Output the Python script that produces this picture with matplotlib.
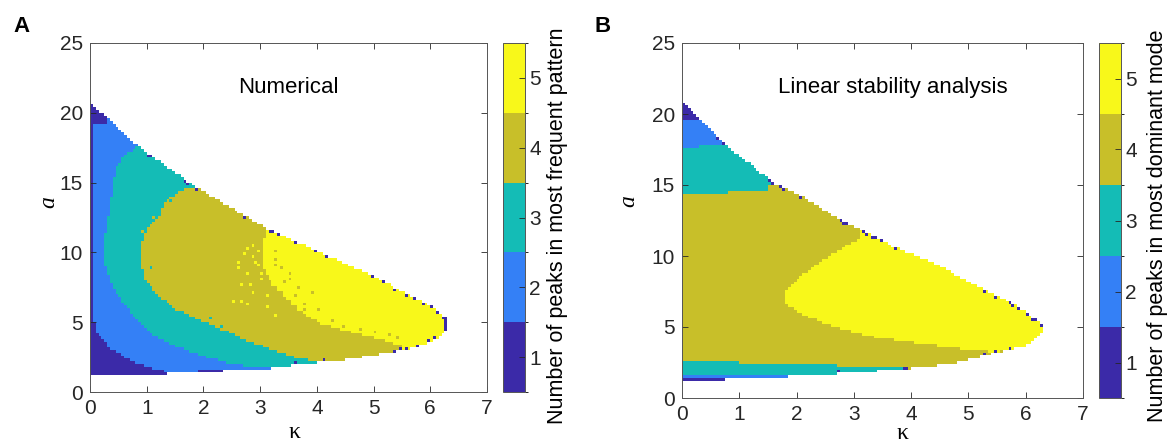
import numpy as np
import matplotlib.pyplot as plt
from matplotlib.colors import ListedColormap, BoundaryNorm
from matplotlib.path import Path

plt.rcParams['font.family'] = ['Liberation Sans', 'DejaVu Sans']

# parula-like palette, one colour per number of peaks
peak_colors = ['#3B2AA8', '#3480F6', '#14BCB6', '#C8BF29', '#F8F81A']
peak_ticks = [1, 2, 3, 4, 5]

# ---------------- panel A: numerical ----------------
top_k_A = [0, 0.35, 0.88, 1.4, 1.94, 2.5, 3.12, 3.59, 4.17, 4.94, 5.35, 5.7, 6.0, 6.2, 6.3]
top_a_A = [20.7, 19.5, 17.5, 16.0, 14.5, 13.2, 11.7, 10.85, 9.8, 8.4, 7.55, 6.8, 6.2, 5.5, 5.3]
bot_k_A = [0, 1.35, 1.4, 2.35, 3.2, 3.76, 4.0, 4.6, 5.2, 5.55, 5.96, 6.2, 6.3]
bot_a_A = [1.2, 1.2, 1.45, 1.5, 1.7, 2.0, 2.1, 2.35, 2.77, 3.0, 3.5, 4.0, 4.4]

# region outlines (kappa, a): >=2, >=3, >=4, 5
reg2_A = [(0.05, 19.3), (0.3, 19.3), (0.3, 26), (8, 26), (8, 0), (2.35, 0), (2.35, 1.6),
          (1.9, 1.6), (1.9, 0), (1.35, 0), (1.35, 1.45), (1.0, 1.8), (0.7, 2.3),
          (0.35, 3.15), (0.1, 4.4), (0.05, 5.6)]
reg3_A = [(0.85, 26), (0.85, 17.6), (0.59, 16.9), (0.46, 16.0), (0.41, 15.0), (0.35, 13.3),
          (0.28, 11.5), (0.24, 10.0), (0.29, 8.7), (0.41, 7.5), (0.59, 6.35), (0.82, 5.16),
          (1.12, 4.08), (1.53, 3.25), (2.0, 2.53), (2.59, 1.93), (3.2, 1.75), (3.2, 0),
          (8, 0), (8, 26)]
reg4_A = [(1.95, 26), (1.95, 14.5), (1.65, 14.5), (1.3, 13.6), (1.23, 12.6), (1.03, 11.8),
          (0.94, 11.1), (0.88, 9.5), (0.97, 8.0), (1.23, 6.8), (1.53, 5.87), (1.94, 5.16),
          (2.35, 4.44), (2.76, 3.72), (3.23, 3.0), (3.58, 2.53), (3.99, 2.2), (3.99, 0),
          (8, 0), (8, 26)]
reg5_A = [(3.12, 26), (3.12, 11.7), (3.05, 10.5), (3.05, 9.0), (3.2, 7.8), (3.45, 6.8),
          (3.7, 5.8), (4.06, 4.9), (4.6, 4.3), (5.1, 3.8), (5.5, 3.3), (5.6, 0), (8, 0), (8, 26)]

# isolated cells (kappa, a, number of peaks)
speck_k_A = [2.65, 2.73, 2.85, 2.94, 2.76, 2.67, 2.69, 2.88, 3.0, 2.8, 2.55, 2.75,
             2.9, 2.98, 2.95, 3.02, 2.6, 2.82, 3.1, 3.15, 3.3,
             3.3, 3.5, 3.4, 3.65, 3.8, 4.0, 4.3, 4.8, 5.0, 3.3,
             3.25, 3.35, 3.55, 3.6, 3.9, 3.75, 4.45, 5.25, 5.4,
             1.06, 0.99, 1.44, 2.32, 2.1, 2.29, 2.5, 3.0, 1.8,
             0.93, 1.11, 0.53, 0.65, 1.53, 0.9]
speck_a_A = [9.33, 9.93, 9.7, 9.33, 8.5, 7.67, 6.47, 7.18, 8.02, 10.3, 6.5, 6.3,
             10.6, 10.0, 9.0, 8.6, 8.9, 7.7, 6.9, 6.1, 5.5,
             9.0, 8.4, 7.9, 7.4, 6.2, 5.9, 5.0, 4.5, 4.3, 10.2,
             9.5, 8.8, 8.0, 6.9, 7.1, 5.9, 4.7, 4.1, 3.9,
             8.98, 7.5, 13.75, 4.7, 5.2, 4.08, 4.1, 2.89, 4.9,
             11.4, 12.6, 6.6, 5.87, 3.72, 10.5]
speck_v_A = [5, 5, 5, 5, 5, 5, 5, 5, 5, 5, 5, 5,
             5, 5, 5, 5, 5, 5, 5, 5, 5,
             4, 4, 4, 4, 4, 4, 4, 4, 4, 4,
             4, 4, 4, 4, 4, 4, 4, 4, 4,
             3, 3, 3, 3, 3, 3, 3, 3, 3,
             4, 4, 2, 2, 3, 4]

edge_top_A = [1.0, 1.05, 1.65, 1.7, 1.85, 2.7, 3.15, 3.2, 3.3, 3.6, 3.95, 4.15,
              4.95, 5.15, 5.35, 5.55, 5.7, 5.85, 6.0, 6.1, 6.2]
edge_bot_A = [3.6, 4.1, 5.35, 5.45, 5.55, 5.75, 5.95, 6.05]
tip_k_A = 6.25

# ---------------- panel B: linear stability ----------------
top_k_B = [0, 0.31, 0.78, 1.62, 2.06, 2.82, 3.4, 3.69, 4.27, 5.26, 5.84, 6.19, 6.3]
top_a_B = [20.8, 19.6, 17.75, 15.1, 14.3, 12.4, 11.36, 10.66, 9.72, 7.72, 6.55, 5.49, 5.1]
bot_k_B = [0, 0.72, 0.75, 1.83, 1.85, 2.67, 2.7, 3.37, 3.4, 3.92, 4.74, 5.43, 6.02, 6.25, 6.3]
bot_a_B = [1.15, 1.15, 1.36, 1.36, 1.57, 1.57, 1.78, 1.78, 1.9, 2.06, 2.44, 3.15, 3.73, 4.44, 4.6]

reg2_B = [(0, 19.6), (0.35, 19.6), (0.35, 26), (8, 26), (8, 0), (0.75, 0), (0.75, 1.36),
          (0, 1.36)]
reg3_B = [(0, 17.6), (0.32, 17.6), (0.32, 17.8), (0.85, 17.8), (0.85, 26), (8, 26), (8, 0),
          (1.85, 0), (1.85, 1.57), (0, 1.57)]
reg4_B = [(0, 14.37), (0.8, 14.37), (0.8, 14.5), (1.13, 14.5), (1.13, 14.7), (1.5, 14.7),
          (1.5, 15.0), (1.7, 15.0), (1.7, 26), (8, 26), (8, 0), (3.85, 0), (3.85, 2.2),
          (2.7, 2.2), (2.7, 2.37), (1.0, 2.37), (1.0, 2.56), (0, 2.56)]
reg5_B = [(3.11, 26), (3.11, 11.25), (2.64, 10.19), (2.29, 9.25), (2.0, 8.3), (1.83, 7.6),
          (1.78, 6.9), (1.88, 6.43), (2.18, 5.73), (2.64, 5.02), (3.34, 4.32), (4.15, 3.85),
          (4.85, 3.5), (5.43, 3.26), (5.8, 3.4), (5.9, 0), (8, 0), (8, 26)]

speck_k_B = []
speck_a_B = []
speck_v_B = []

edge_top_B = [0.6, 0.7, 1.5, 1.55, 1.7, 1.75, 2.05, 2.75, 2.8, 2.85, 3.15, 3.2, 3.3, 3.35,
              3.45, 3.7, 5.25, 5.45, 5.7, 5.75, 5.85, 6.0, 6.1, 6.15, 6.25]
edge_bot_B = [2.7, 3.85, 3.9, 5.25, 5.45, 5.7]
tip_k_B = 9.0

dk, da = 0.05, 0.2
k_edges = np.arange(0, 7 + dk / 2, dk)
a_edges = np.arange(0, 25 + da / 2, da)
K, A = np.meshgrid(k_edges[:-1] + dk / 2, a_edges[:-1] + da / 2)


def build_map(top_k, top_a, bot_k, bot_a, regions, sk, sa, sv, e_top, e_bot, tip_k):
    inside = (A >= np.interp(K, bot_k, bot_a)) & (A <= np.interp(K, top_k, top_a)) \
        & (K <= top_k[-1])
    Z = np.ones(K.shape)
    pts = np.column_stack([K.ravel(), A.ravel()])
    for level, poly in zip([2, 3, 4, 5], regions):
        hit = Path(poly).contains_points(pts).reshape(K.shape)
        Z[hit] = level
    for k, a, v in zip(sk, sa, sv):
        Z[int(a / da), int(k / dk)] = v
    for k in e_top:
        j = int(k / dk + 1e-6)
        rows = np.where(inside[:, j])[0]
        if len(rows):
            Z[rows.max(), j] = 1
    for k in e_bot:
        j = int(k / dk + 1e-6)
        rows = np.where(inside[:, j])[0]
        if len(rows):
            Z[rows.min(), j] = 1
    Z[K > tip_k] = 1
    return np.ma.masked_where(~inside, Z)


Z_A = build_map(top_k_A, top_a_A, bot_k_A, bot_a_A, [reg2_A, reg3_A, reg4_A, reg5_A],
                speck_k_A, speck_a_A, speck_v_A, edge_top_A, edge_bot_A, tip_k_A)
Z_B = build_map(top_k_B, top_a_B, bot_k_B, bot_a_B, [reg2_B, reg3_B, reg4_B, reg5_B],
                speck_k_B, speck_a_B, speck_v_B, edge_top_B, edge_bot_B, tip_k_B)

cmap = ListedColormap(peak_colors)
norm = BoundaryNorm([0.5, 1.5, 2.5, 3.5, 4.5, 5.5], cmap.N)

W, H = 1168, 445
fig = plt.figure(figsize=(W / 100, H / 100), dpi=100)

panels = [
    dict(Z=Z_A, ax=(90, 43, 487, 392), cax=503, title='Numerical', tx=3.5, ty=0.857,
         cblabel='Number of peaks in most frequent pattern', cbx=558, letter='A', lx=21,
         ylab=(-0.103, 0.544), xlab=(0.516, -0.117)),
    dict(Z=Z_B, ax=(682, 43, 1083, 398), cax=1099, title='Linear stability analysis', tx=3.68,
         ty=0.859, cblabel='Number of peaks in most dominant mode', cbx=1157, letter='B', lx=603,
         ylab=(-0.132, 0.555), xlab=(0.549, -0.099)),
]

line_col = '#262626'
for p in panels:
    x0, y0, x1, y1 = p['ax']
    ax = fig.add_axes([x0 / W, 1 - y1 / H, (x1 - x0) / W, (y1 - y0) / H])
    mesh = ax.pcolormesh(k_edges, a_edges, p['Z'], cmap=cmap, norm=norm,
                         edgecolors='none', antialiased=False)
    ax.set_xlim(0, 7)
    ax.set_ylim(0, 25)
    ax.set_xticks(range(0, 8))
    ax.set_yticks([0, 5, 10, 15, 20, 25])
    ax.tick_params(direction='in', length=4, width=0.6, top=True, right=True,
                   labelsize=15, colors=line_col, pad=5)
    for s in ax.spines.values():
        s.set_linewidth(0.7)
        s.set_color('#555555')
    ax.text(p['tx'], p['ty'], p['title'], transform=ax.get_xaxis_transform(),
            ha='center', va='baseline', fontsize=16, color='black')
    ax.set_ylabel('a', fontsize=17, family='Liberation Serif', style='italic')
    ax.yaxis.set_label_coords(*p['ylab'])
    ax.yaxis.label.set_va('center')
    ax.set_xlabel('κ', fontsize=17, family='Liberation Serif')
    ax.xaxis.set_label_coords(*p['xlab'])
    ax.xaxis.label.set_va('center')

    cx = p['cax']
    cax = fig.add_axes([cx / W, 1 - y1 / H, 22 / W, (y1 - y0) / H])
    cb = fig.colorbar(mesh, cax=cax, ticks=peak_ticks)
    cb.outline.set_linewidth(0.7)
    cb.outline.set_edgecolor('#555555')
    cax.tick_params(direction='in', length=4, width=0.6, labelsize=15, colors=line_col, pad=3)
    fig.text(p['cbx'] / W, 1 - 226 / H, p['cblabel'], rotation=90, ha='center', va='center',
             fontsize=15.5, color='black')
    fig.text(p['lx'] / W, 1 - 27 / H, p['letter'], ha='center', va='center',
             fontsize=16, fontweight='bold')

fig.savefig('out.png', dpi=100)
